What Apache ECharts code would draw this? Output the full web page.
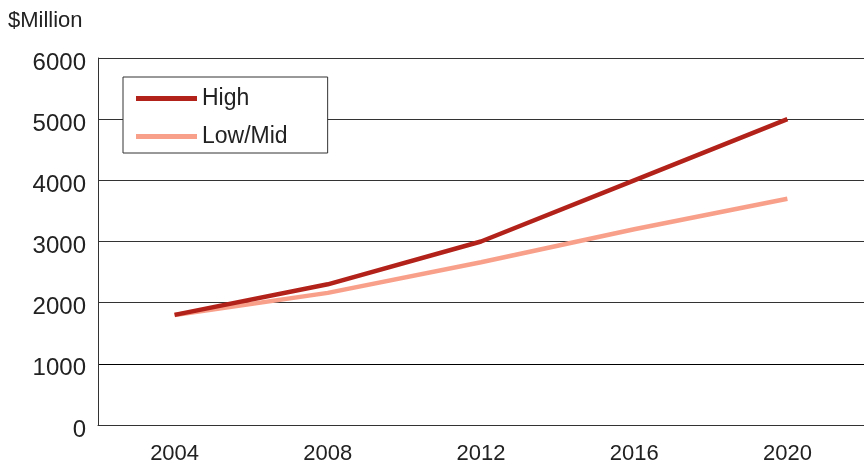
<!DOCTYPE html>
<html>
<head>
<meta charset="utf-8">
<script src="https://cdn.jsdelivr.net/npm/echarts@6/dist/echarts.min.js"></script>
<style>html,body{margin:0;padding:0;background:#fff;}#c{width:864px;height:465px;}</style>
</head>
<body>
<div id="c"></div>
<script>
var years = ['2004', '2008', '2012', '2016', '2020'];
var high = [1800, 2300, 3000, 4000, 5000];
var lowMid = [1800, 2160, 2660, 3200, 3700];
var seriesNames = ['High', 'Low/Mid'];

var chart = echarts.init(document.getElementById('c'));
var font = 'Liberation Sans, Arial, Helvetica, sans-serif';
chart.setOption({
  animation: false,
  backgroundColor: '#fff',
  title: {
    text: '$Million', left: 3, top: 5,
    textStyle: { fontFamily: font, fontSize: 22, fontWeight: 'normal', color: '#222' }
  },
  grid: { left: 98, right: 0, top: 58, bottom: 40 },
  legend: {
    orient: 'vertical', left: 123, top: 77,
    padding: [10, 40, 5, 13],
    itemGap: 15, itemWidth: 61, itemHeight: 5,
    icon: 'rect',
    borderColor: '#333', borderWidth: 1, backgroundColor: '#fff',
    textStyle: { fontFamily: font, fontSize: 23, color: '#222' },
    data: seriesNames
  },
  xAxis: {
    type: 'category', data: years, boundaryGap: true,
    axisTick: { show: false },
    axisLine: { show: true, lineStyle: { color: '#333', width: 1 } },
    axisLabel: { fontFamily: font, fontSize: 22, color: '#222', margin: 18 }
  },
  yAxis: {
    type: 'value', min: 0, max: 6000, interval: 1000,
    axisLine: { show: true, lineStyle: { color: '#333', width: 1 } },
    axisTick: { show: false },
    splitLine: { lineStyle: { color: ['#333', '#000', '#333', '#333', '#333', '#333', '#333'], width: 1 } },
    axisLabel: {
      fontFamily: font, fontSize: 24, color: '#222', margin: 12,
      verticalAlign: 'top', lineHeight: 10,
      formatter: function (v) { return String(v); }
    }
  },
  series: [
    { name: seriesNames[0], type: 'line', data: high, symbol: 'none',
      lineStyle: { color: '#b3221a', width: 4.5 }, itemStyle: { color: '#b3221a' }, z: 3 },
    { name: seriesNames[1], type: 'line', data: lowMid, symbol: 'none',
      lineStyle: { color: '#f9a08b', width: 4.5 }, itemStyle: { color: '#f9a08b' }, z: 2 }
  ]
});
</script>
</body>
</html>
